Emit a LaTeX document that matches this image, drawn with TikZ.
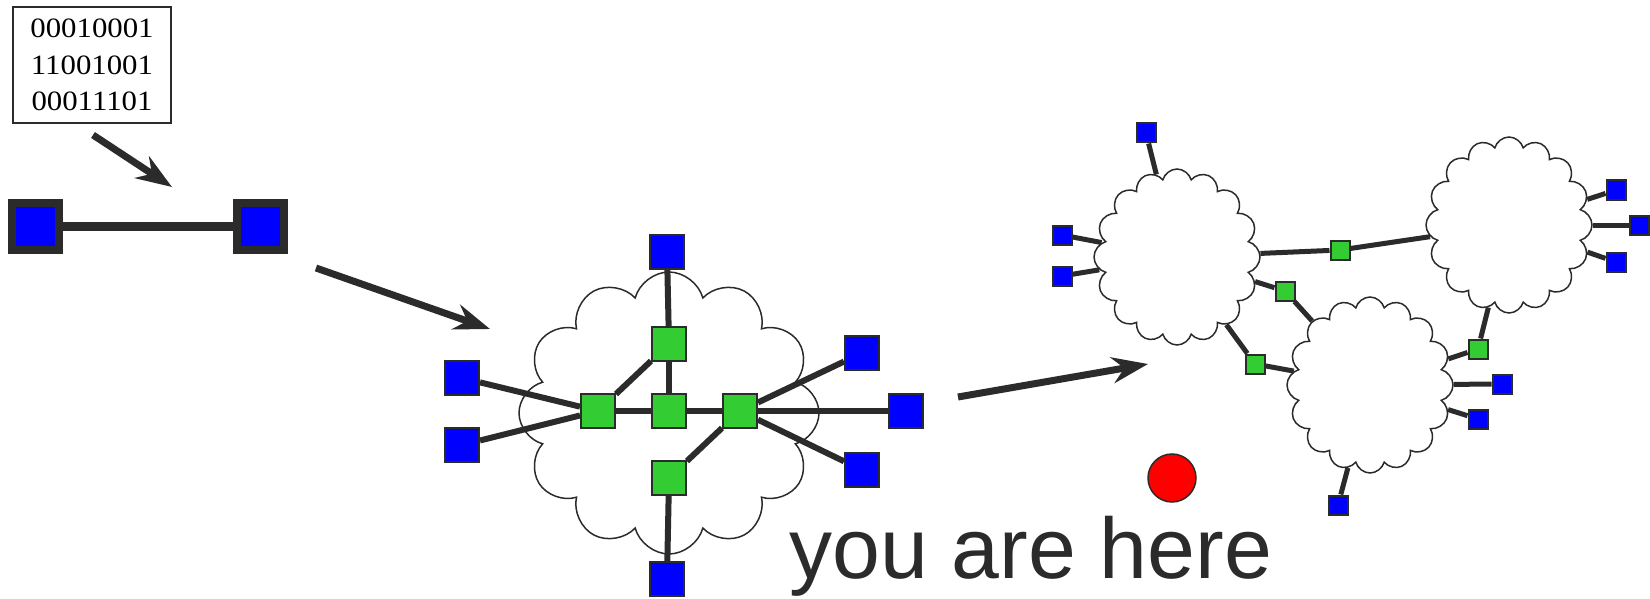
\documentclass[tikz,border=0pt]{standalone}
\usepackage{fontspec}
\setmainfont{Liberation Serif}
\newfontfamily\herefont{Liberation Sans}
\newfontfamily\bitsfont{Liberation Serif}[FakeStretch=1.1]
\usetikzlibrary{arrows.meta, positioning, shapes.symbols}
\definecolor{wiregray}{HTML}{2B2B2B}
\definecolor{hostblue}{HTML}{0000FF}
\definecolor{routergreen}{HTML}{33CC33}
\tikzset{
    host/.style={rectangle,draw=wiregray,fill=hostblue,line width=2pt,minimum size=34pt,inner sep=0pt},
    router/.style={host,fill=routergreen},
    endhost/.style={host,line width=8pt,minimum size=47pt},
    smallhost/.style={host,minimum size=19pt},
    smallrouter/.style={router,minimum size=19pt},
    net/.style={cloud,draw=wiregray,line width=1.5pt,cloud puffs=16,cloud puff arc=150,
        cloud ignores aspect,minimum width=166pt,minimum height=176pt,inner sep=0pt},
    bignet/.style={net,cloud puffs=12,cloud puff arc=150,minimum width=300pt,minimum height=282pt},
    wire/.style={draw=wiregray,line width=6pt},
    thinwire/.style={draw=wiregray,line width=5pt},
    flow/.style={draw=wiregray,line width=7pt,-{Stealth[length=36pt,width=26pt,inset=12pt]}},
    bits/.style={draw=wiregray,line width=1.5pt,align=center,minimum width=158pt,minimum height=116pt,
        font=\bitsfont\fontsize{28}{36.5}\selectfont},
    dot/.style={circle,draw=wiregray,line width=1.5pt,fill=red,minimum size=48pt,inner sep=0pt}}

\begin{document}
\begin{tikzpicture}[x=1pt,y=-1pt]
\useasboundingbox (0,0) rectangle (1650,599);
% first step: two hosts and a link
\node[bits]    (data)  at (92,65)   {00010001\\11001001\\00011101};
\node[endhost] (h1)    at (35,226)  {};
\node[endhost] (h2)    at (260,226) {};
\path[draw=wiregray,line width=9pt] (h1) -- (h2);
\coordinate (f1a) at (93,135);
\coordinate (f1b) at (172,187);
\draw[flow] (f1a) -- (f1b);
\coordinate (f2a) at (316,268);
\coordinate (f2b) at (490,329);
\draw[flow] (f2a) -- (f2b);
% second step: one network
\node[bignet] (lan) at (669,413) {};
\node[host]   (ctop)   at (667,252) {};
\node[router] (rtop)   at (669,344) {};
\node[router] (rleft)  at (598,411) {};
\node[router] (rmid)   at (669,411) {};
\node[router] (rright) at (740,411) {};
\node[router] (rbot)   at (669,478) {};
\node[host]   (cbot)   at (667,579) {};
\node[host]   (cw1)    at (462,378) {};
\node[host]   (cw2)    at (462,445) {};
\node[host]   (ce1)    at (862,353) {};
\node[host]   (ce2)    at (906,411) {};
\node[host]   (ce3)    at (862,470) {};
\path[wire]
    (ctop)  edge (rtop)
    (rtop)  edge (rmid)
    (rtop)  edge (rleft)
    (rleft) edge (rmid)
    (rmid)  edge (rright)
    (rright) edge (rbot)
    (rbot)  edge (cbot)
    (cw1)   edge (rleft)
    (cw2)   edge (rleft)
    (rright) edge (ce1)
    (rright) edge (ce2)
    (rright) edge (ce3);
\coordinate (f3a) at (958,397);
\coordinate (f3b) at (1148,364);
\draw[flow] (f3a) -- (f3b);
% third step: networks of networks
\node[net] (na) at (1177,257) {};
\node[net] (nb) at (1509,225) {};
\node[net] (nc) at (1370,385) {};
\node[smallrouter] (gab)  at (1340,250) {};
\node[smallrouter] (gac1) at (1285,291) {};
\node[smallrouter] (gac2) at (1255,364) {};
\node[smallrouter] (gbc)  at (1478,349) {};
\node[smallhost] (a1) at (1146,133) {};
\node[smallhost] (a2) at (1062,235) {};
\node[smallhost] (a3) at (1062,276) {};
\node[smallhost] (b1) at (1616,190) {};
\node[smallhost] (b2) at (1639,225) {};
\node[smallhost] (b3) at (1616,262) {};
\node[smallhost] (c1) at (1502,384) {};
\node[smallhost] (c2) at (1478,419) {};
\node[smallhost] (c3) at (1338,505) {};
\path[thinwire]
    (na) edge (gab)   (gab)  edge (nb)
    (na) edge (gac1)  (gac1) edge (nc)
    (na) edge (gac2)  (gac2) edge (nc)
    (nb) edge (gbc)   (gbc)  edge (nc)
    (a1) edge (na)  (a2) edge (na)  (a3) edge (na)
    (nb) edge (b1)  (nb) edge (b2)  (nb) edge (b3)
    (nc) edge (c1)  (nc) edge (c2)  (nc) edge (c3);
\node[dot] (here) at (1172,478) {};
\node[anchor=base west,inner sep=0pt,text=wiregray,font=\herefont\fontsize{86}{100}\selectfont]
    (herelabel) at (789,578) {you are here};
\end{tikzpicture}
\end{document}
